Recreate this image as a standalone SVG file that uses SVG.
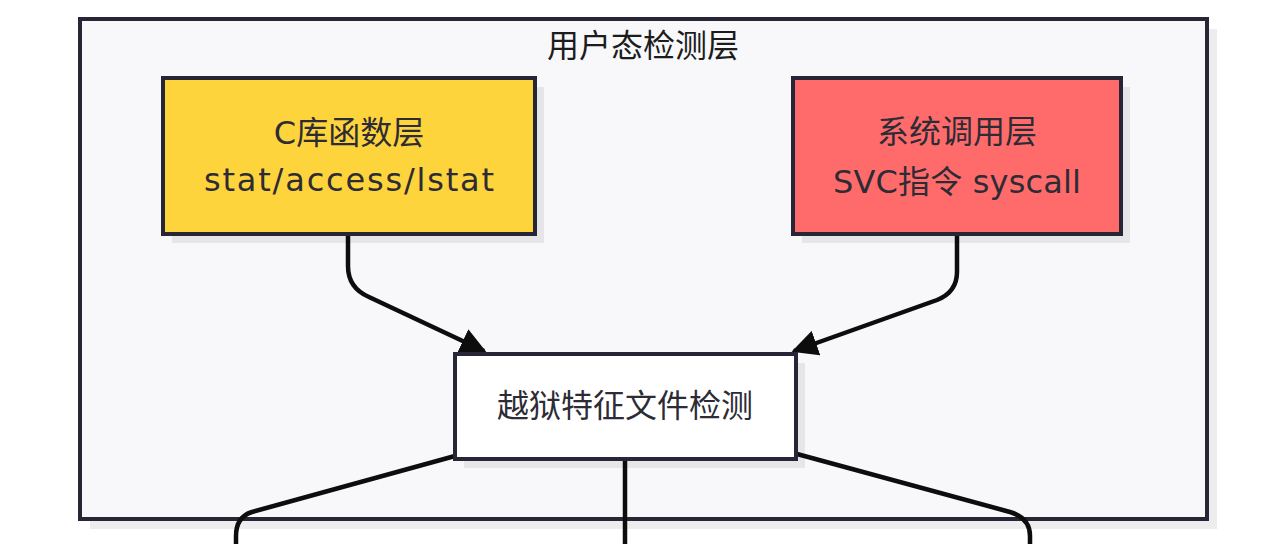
<svg xmlns="http://www.w3.org/2000/svg" width="1280" height="544" viewBox="0 0 1280 544">
  <defs>
    <style>
      .shadow { fill: #000000; fill-opacity: 0.07; }
      .box { stroke: #272637; stroke-width: 4; }
      .lbl { font-family: "DejaVu Sans", "Noto Sans CJK SC", sans-serif; font-size: 32px; fill: #2d2b35; text-anchor: middle; dominant-baseline: central; }
      .title { font-family: "Noto Sans CJK SC", sans-serif; font-size: 32px; fill: #1c1c1c; text-anchor: middle; dominant-baseline: central; }
      .edge { fill: none; stroke: #0d0d0d; stroke-width: 4.5; }
    </style>
    <marker id="arrow" markerUnits="userSpaceOnUse" markerWidth="26" markerHeight="26" viewBox="0 0 10 10" refX="9" refY="5" orient="auto">
      <path d="M0,0 L10,5 L0,10 z" fill="#0d0d0d"/>
    </marker>
  </defs>
  <rect width="1280" height="544" fill="#ffffff"/>

  <g id="cluster-user">
    <rect class="shadow" x="90" y="29" width="1127" height="500"/>
    <rect class="box" x="80" y="19" width="1127" height="500" fill="#f8f8fb"/>
    <text class="title" x="643" y="43">用户态检测层</text>
  </g>

  <g id="edges">
    <path class="edge" d="M348,236 L348,266 Q348,288 369,297 L484,351" marker-end="url(#arrow)"/>
    <path class="edge" d="M957,236 L957,272 Q957,292 937,300 L794,351" marker-end="url(#arrow)"/>
    <path class="edge" d="M455,456 L252,512 Q236,517 236,536 L236,560"/>
    <path class="edge" d="M625,460 L625,560"/>
    <path class="edge" d="M797,454 L1010,512 Q1030,518 1030,536 L1030,560"/>
  </g>

  <g id="node-clib">
    <rect class="shadow" x="172" y="87" width="372" height="156"/>
    <rect class="box" x="163" y="78" width="372" height="156" fill="#fed43c"/>
    <text class="lbl" x="349" y="133">C库函数层</text>
    <text class="lbl" x="349" y="180" textLength="290" lengthAdjust="spacing">stat/access/lstat</text>
  </g>

  <g id="node-syscall">
    <rect class="shadow" x="802" y="87" width="328" height="156"/>
    <rect class="box" x="793" y="78" width="328" height="156" fill="#ff6b6b"/>
    <text class="lbl" x="957" y="132">系统调用层</text>
    <text class="lbl" x="957" y="182" textLength="248" lengthAdjust="spacing">SVC指令 syscall</text>
  </g>

  <g id="node-detect">
    <rect class="shadow" x="464" y="363" width="341" height="105"/>
    <rect class="box" x="455" y="354" width="341" height="105" fill="#ffffff"/>
    <text class="lbl" x="625" y="406">越狱特征文件检测</text>
  </g>
</svg>
